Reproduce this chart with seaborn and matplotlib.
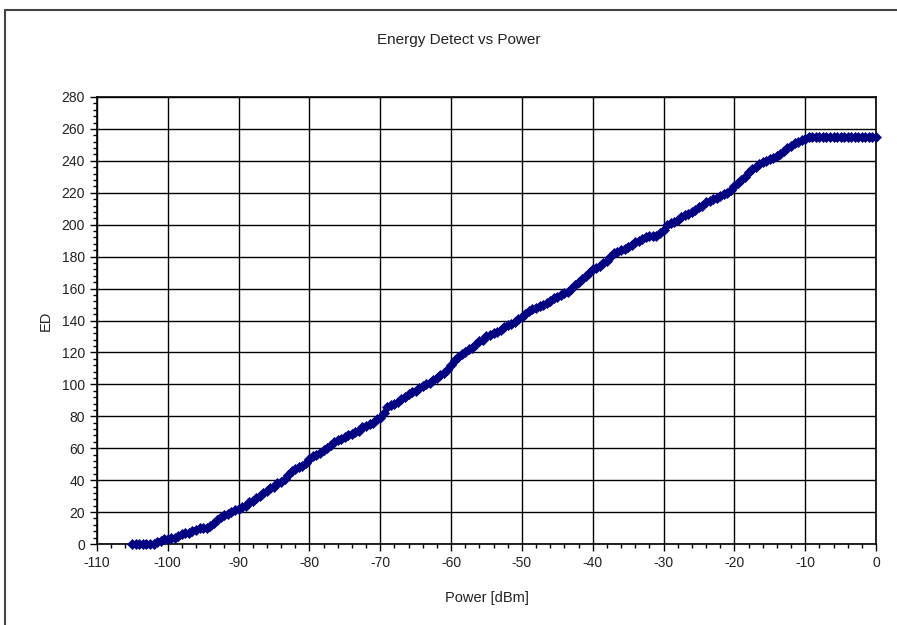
"""
Energy Detect vs Power: ED 값(0~255)과 입력 전력(dBm) 관계 산점도.
실행 후 같은 폴더에 out.png 저장.
"""

import matplotlib.pyplot as plt
import numpy as np
import pandas as pd
import seaborn as sns
from matplotlib.lines import Line2D
from matplotlib.ticker import MultipleLocator

# --- 데이터: 0.5 dBm 간격 측정값 ---
POWER_START, POWER_STOP, POWER_STEP = -105.0, 0.0, 0.5
ed_values = [
    0, 0, 0, 0, 0, 0, 0, 1, 2, 3, 3, 4, 4, 5, 6, 7, 7, 8, 9, 10,
    10, 10, 11, 13, 15, 17, 18, 19, 20, 21, 22, 23, 24, 26, 27, 29, 30, 32, 33, 35,
    36, 38, 39, 41, 43, 46, 47, 48, 49, 51, 53, 55, 56, 57, 59, 60, 62, 64, 65, 66,
    67, 68, 69, 70, 71, 73, 74, 75, 76, 78, 79, 82, 86, 87, 88, 89, 91, 92, 94, 95,
    96, 98, 99, 100, 101, 103, 104, 106, 107, 109, 112, 115, 117, 119, 120, 122, 123, 125, 127, 128,
    130, 131, 132, 133, 134, 136, 137, 138, 139, 141, 142, 144, 146, 147, 148, 149, 150, 151, 152, 154,
    155, 156, 157, 158, 160, 162, 164, 166, 168, 170, 172, 173, 174, 176, 177, 180, 182, 183, 184, 185,
    186, 187, 189, 190, 191, 192, 193, 193, 193, 195, 197, 200, 201, 202, 203, 205, 206, 207, 208, 209,
    211, 212, 214, 215, 216, 217, 218, 219, 220, 222, 224, 226, 228, 230, 233, 235, 236, 238, 239, 240,
    241, 242, 243, 244, 246, 248, 249, 251, 252, 253, 254, 255, 255, 255, 255, 255, 255, 255, 255, 255,
    255, 255, 255, 255, 255, 255, 255, 255, 255, 255, 255,
]
power_dbm = np.arange(POWER_START, POWER_STOP + POWER_STEP / 2, POWER_STEP)
df = pd.DataFrame({'power': power_dbm, 'ed': ed_values})

X_TICKS = list(range(-110, 1, 10))
Y_TICKS = list(range(0, 281, 20))

# --- 스타일 ---
sns.set_style('white')
plt.rcParams['font.family'] = ['Liberation Sans', 'DejaVu Sans']
plt.rcParams['axes.unicode_minus'] = False

fig = plt.figure(figsize=(8.97, 6.25), dpi=100)
ax = fig.add_axes([0.108, 0.1296, 0.8686, 0.7152])

sns.scatterplot(
    data=df,
    x='power',
    y='ed',
    marker='D',
    s=26,
    color='#000080',
    edgecolor='#000080',
    linewidth=0.5,
    ax=ax,
    legend=False,
    zorder=3,
    clip_on=False,
)

ax.set_xlim(-110, 0)
ax.set_ylim(0, 280)
ax.set_xticks(X_TICKS)
ax.set_yticks(Y_TICKS)
ax.xaxis.set_minor_locator(MultipleLocator(2))
ax.yaxis.set_minor_locator(MultipleLocator(4))
ax.tick_params(which='major', direction='out', length=5, width=1, colors='black',
               labelsize=10, labelcolor='#222222')
ax.tick_params(which='minor', direction='out', length=3, width=1, colors='black')
ax.tick_params(axis='x', which='both', bottom=True)
ax.tick_params(axis='y', which='both', left=True)
ax.grid(True, which='major', color='black', linewidth=1)
for spine in ax.spines.values():
    spine.set_color('black')
    spine.set_linewidth(1.2)

ax.set_xlabel('Power [dBm]', fontsize=10.5, labelpad=15, color='#222222')
ax.set_ylabel('ED', fontsize=10.5, labelpad=6, color='#222222')
fig.text(0.511, 0.936, 'Energy Detect vs Power', ha='center', va='center',
         fontsize=11, color='#222222')

# 바깥 차트 영역 테두리 (엑셀 스타일, 오른쪽·아래는 잘림)
fig.add_artist(Line2D([0.0056, 1.0], [0.984, 0.984], transform=fig.transFigure,
                      color='#444444', linewidth=1.5))
fig.add_artist(Line2D([0.0056, 0.0056], [0.0, 0.984], transform=fig.transFigure,
                      color='#444444', linewidth=1.5))

fig.savefig('out.png', dpi=100)
